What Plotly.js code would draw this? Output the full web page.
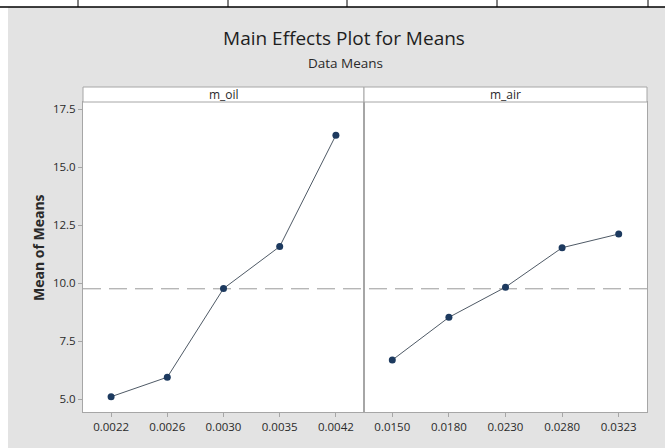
<!DOCTYPE html>
<html>
<head>
<meta charset="utf-8">
<script src="https://cdn.plot.ly/plotly-3.0.1.min.js"></script>
<style>html,body{margin:0;padding:0;background:#fff;}#chart{width:665px;height:448px;}</style>
</head>
<body>
<div id="chart"></div>
<script>
// ---- data ----
const mOilLevels = ['0.0022', '0.0026', '0.0030', '0.0035', '0.0042'];
const mOilMeans  = [5.11, 5.95, 9.77, 11.58, 16.38];
const mAirLevels = ['0.0150', '0.0180', '0.0230', '0.0280', '0.0323'];
const mAirMeans  = [6.69, 8.53, 9.83, 11.53, 12.12];
const grandMean  = 9.76;
const yTickVals  = [5, 7.5, 10, 12.5, 15, 17.5];
const yTickText  = ['5.0', '7.5', '10.0', '12.5', '15.0', '17.5'];
const panelNames = ['m_oil', 'm_air'];

// ---- styling ----
const FONT = 'Open Sans, Noto Sans, sans-serif';
const GRAY_BG = '#e3e3e3';
const FRAME = '#a6a6a6';
const MARK = '#1d3a5f';
const LINE = '#4f5a66';
const TXT = '#2a2a2a';

// paper coordinate helpers (plot area: x 83..647 px, y 102..412 px)
const L = 83, R = 18, T = 102, B = 36, W = 665, H = 448;
const pw = W - L - R, ph = H - T - B;
const px = v => (v - L) / pw;
const py = v => (H - B - v) / ph;
const split = px(364);

const traces = [
  {x: mOilLevels, y: mOilMeans, xaxis: 'x', yaxis: 'y', type: 'scatter', mode: 'lines+markers',
   line: {color: LINE, width: 1}, marker: {color: MARK, size: 7}, hoverinfo: 'x+y'},
  {x: mAirLevels, y: mAirMeans, xaxis: 'x2', yaxis: 'y2', type: 'scatter', mode: 'lines+markers',
   line: {color: LINE, width: 1}, marker: {color: MARK, size: 7}, hoverinfo: 'x+y'}
];

const xCommon = {
  type: 'category', range: [-0.5, 4.5], showgrid: false, zeroline: false,
  showline: true, linecolor: FRAME, linewidth: 1, mirror: true,
  ticks: 'outside', ticklen: 4, tickcolor: FRAME,
  tickfont: {family: FONT, size: 11.5, color: TXT}, fixedrange: true
};
const yRange = [4.45, 17.81];

const stripY0 = py(102), stripY1 = py(87);

const layout = {
  width: W, height: H,
  margin: {l: L, r: R, t: T, b: B, pad: 0},
  paper_bgcolor: GRAY_BG, plot_bgcolor: '#ffffff',
  showlegend: false,
  xaxis:  Object.assign({}, xCommon, {domain: [0, split], anchor: 'y'}),
  xaxis2: Object.assign({}, xCommon, {domain: [split, 1], anchor: 'y2'}),
  yaxis: {
    range: yRange, tickvals: yTickVals, ticktext: yTickText, anchor: 'x',
    showgrid: false, zeroline: false, showline: true, linecolor: FRAME, linewidth: 1, mirror: true,
    ticks: 'outside', ticklen: 4, tickcolor: FRAME,
    tickfont: {family: FONT, size: 11.5, color: TXT}, fixedrange: true
  },
  yaxis2: {
    range: yRange, matches: 'y', anchor: 'x2', showticklabels: false, ticks: '',
    showgrid: false, zeroline: false, showline: true, linecolor: FRAME, linewidth: 1, mirror: true,
    fixedrange: true
  },
  title: {
    text: 'Main Effects Plot for Means',
    font: {family: FONT, size: 19, color: '#1e1e1e'},
    x: px(344), xref: 'paper', xanchor: 'center',
    y: 1 - 38 / H, yref: 'container', yanchor: 'middle'
  },
  annotations: [
    {text: 'Data Means', xref: 'paper', yref: 'paper', x: px(345), y: py(63), xanchor: 'center', yanchor: 'middle',
     showarrow: false, font: {family: FONT, size: 13.5, color: TXT}},
    {text: '<b>Mean of Means</b>', xref: 'paper', yref: 'paper', x: px(38), y: py(248), textangle: -90,
     xanchor: 'center', yanchor: 'middle', showarrow: false, font: {family: FONT, size: 14, color: TXT}},
    {text: panelNames[0], xref: 'paper', yref: 'paper', x: split / 2, y: (stripY0 + stripY1) / 2,
     xanchor: 'center', yanchor: 'middle', showarrow: false, font: {family: FONT, size: 12, color: TXT}},
    {text: panelNames[1], xref: 'paper', yref: 'paper', x: (split + 1) / 2, y: (stripY0 + stripY1) / 2,
     xanchor: 'center', yanchor: 'middle', showarrow: false, font: {family: FONT, size: 12, color: TXT}}
  ],
  shapes: [
    // strips
    {type: 'rect', xref: 'paper', yref: 'paper', x0: 0, x1: split, y0: stripY0, y1: stripY1,
     fillcolor: '#ffffff', line: {color: FRAME, width: 1}},
    {type: 'rect', xref: 'paper', yref: 'paper', x0: split, x1: 1, y0: stripY0, y1: stripY1,
     fillcolor: '#ffffff', line: {color: FRAME, width: 1}},
    // grand mean reference line
    {type: 'line', xref: 'paper', yref: 'y', x0: 0, x1: 1, y0: grandMean, y1: grandMean,
     line: {color: '#9a9a9a', width: 1, dash: '18px,8px'}, layer: 'below'},
    // page background outside the chart image (document page)
    {type: 'rect', xref: 'paper', yref: 'paper', x0: px(-5), x1: px(670), y0: py(7), y1: py(-5),
     fillcolor: '#ffffff', line: {width: 0}},
    {type: 'rect', xref: 'paper', yref: 'paper', x0: px(-5), x1: px(8), y0: py(455), y1: py(-5),
     fillcolor: '#ffffff', line: {width: 0}},
    {type: 'line', xref: 'paper', yref: 'paper', x0: px(0), x1: px(665), y0: py(7), y1: py(7),
     line: {color: '#000', width: 1.5}},
    {type: 'line', xref: 'paper', yref: 'paper', x0: px(78), x1: px(78), y0: py(0), y1: py(7), line: {color: '#000', width: 1}},
    {type: 'line', xref: 'paper', yref: 'paper', x0: px(228), x1: px(228), y0: py(0), y1: py(7), line: {color: '#000', width: 1}},
    {type: 'line', xref: 'paper', yref: 'paper', x0: px(347), x1: px(347), y0: py(0), y1: py(7), line: {color: '#000', width: 1}},
    {type: 'line', xref: 'paper', yref: 'paper', x0: px(497), x1: px(497), y0: py(0), y1: py(7), line: {color: '#000', width: 1}},
    {type: 'line', xref: 'paper', yref: 'paper', x0: px(648), x1: px(648), y0: py(0), y1: py(7), line: {color: '#000', width: 1}}
  ]
};

Plotly.newPlot('chart', traces, layout, {staticPlot: true, displayModeBar: false});
</script>
</body>
</html>
